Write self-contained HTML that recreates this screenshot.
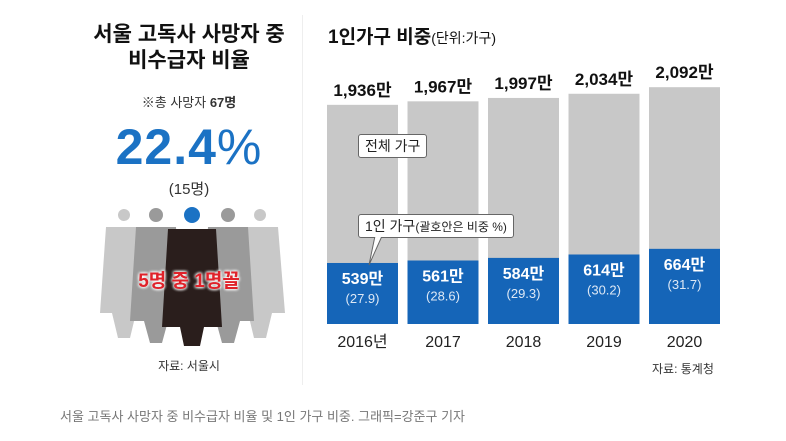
<!DOCTYPE html>
<html><head><meta charset="utf-8"><style>
body{margin:0;width:786px;height:441px;background:#fff;font-family:"Liberation Sans","Noto Sans CJK KR",sans-serif;position:relative;overflow:hidden}
.a{position:absolute;white-space:nowrap}
</style></head><body>
<div class="a" style="left:84px;top:22px;width:210px;text-align:center;font-size:21px;font-weight:bold;line-height:26px;color:#111">서울 고독사 사망자 중<br>비수급자 비율</div>
<div class="a" style="left:84px;top:92px;width:210px;text-align:center;font-size:13px;color:#333">※총 사망자 <b>67명</b></div>
<div class="a" style="left:84px;top:118px;width:210px;text-align:center;font-size:50px;font-weight:bold;color:#1b72c4;letter-spacing:1px">22.4<span style="font-weight:normal">%</span></div>
<div class="a" style="left:84px;top:178px;width:210px;text-align:center;font-size:15px;color:#333">(15명)</div>
<svg class="a" style="left:100px;top:203px" width="185" height="145">
<g fill="#c8c8c8"><circle cx="24" cy="12" r="6"/><path d="M6 24 L42 24 L48 110 L36 110 L30 135 L18 135 L12 110 L0 110Z"/>
<circle cx="160" cy="12" r="6"/><path d="M142 24 L178 24 L185 110 L172 110 L166 135 L154 135 L148 110 L136 110Z"/></g>
<g fill="#9a9a9a"><circle cx="56" cy="12" r="7"/><path d="M36 24 L76 24 L82 118 L68 118 L62 140 L50 140 L44 118 L30 118Z"/>
<circle cx="128" cy="12" r="7"/><path d="M108 24 L148 24 L154 118 L140 118 L134 140 L122 140 L116 118 L102 118Z"/></g>
<circle cx="92" cy="12" r="8" fill="#1b72c4"/>
<path d="M68 26 L116 26 L122 124 L104 124 L100 143 L84 143 L80 124 L62 124Z" fill="#2a1e1c"/>
</svg>
<div class="a" style="left:84px;top:266px;width:210px;text-align:center;font-size:19px;font-weight:bold;color:#e0222a;text-shadow:0 0 3px #fff,0 0 3px #fff,0 0 3px #fff">5명 중 1명꼴</div>
<div class="a" style="left:84px;top:357px;width:210px;text-align:center;font-size:12px;color:#333">자료: 서울시</div>
<div class="a" style="left:302px;top:15px;width:1px;height:370px;background:#eee"></div>
<div class="a" style="left:328px;top:22px;font-size:19px;font-weight:bold;color:#111">1인가구 비중<span style="font-size:14px;font-weight:normal">(단위:가구)</span></div>
<svg class="a" id="chart" style="left:0;top:0" width="786" height="441"></svg>
<div class="a" style="left:358px;top:134px;border:1px solid #666;border-radius:3px;background:#fff;font-size:14px;padding:1px 6px;color:#222">전체 가구</div>
<div class="a" style="left:358px;top:214px;border:1px solid #666;border-radius:3px;background:#fff;font-size:14px;padding:1px 6px;color:#222">1인 가구<span style="font-size:12px">(괄호안은 비중 %)</span></div>
<svg class="a" style="left:0;top:0" width="786" height="441"><path d="M375 236 L369 265 L382 236" fill="#fff" stroke="#666"/><rect x="374" y="233" width="10" height="4" fill="#fff"/></svg>
<div class="a" style="left:652px;top:360px;font-size:12px;color:#333">자료: 통계청</div>
<div class="a" style="left:60px;top:406px;font-size:13px;color:#777">서울 고독사 사망자 중 비수급자 비율 및 1인 가구 비중. 그래픽=강준구 기자</div>
<script>
const years=['2016년','2017','2018','2019','2020'];
const totals=[1936,1967,1997,2034,2092];
const singles=[539,561,584,614,664];
const shares=['27.9','28.6','29.3','30.2','31.7'];
const svg=document.getElementById('chart');const NS='http://www.w3.org/2000/svg';
const base=324,k=0.1132;
const y=v=>base-v*k, x=i=>327+i*80.5, bw=71;
function mk(t,a,txt){const e=document.createElementNS(NS,t);for(const n in a)e.setAttribute(n,a[n]);if(txt!=null)e.textContent=txt;svg.appendChild(e);return e;}
years.forEach((yr,i)=>{
 let r=mk('rect',{x:x(i),y:y(totals[i]),width:bw,height:totals[i]*k,fill:'#c8c8c8'});
 
 
 let b=mk('rect',{x:x(i),y:y(singles[i]),width:bw,height:singles[i]*k,fill:'#1565b8'});
 
 
 const cx=x(i)+bw/2;
 let t=mk('text',{x:cx,y:y(totals[i])-9,'text-anchor':'middle','font-size':17,'font-weight':'bold',fill:'#111'},totals[i].toLocaleString('en-US')+'만');
 
 
 let s=mk('text',{x:cx,y:y(singles[i])+21,'text-anchor':'middle','font-size':16,'font-weight':'bold',fill:'#fff'},singles[i]+'만');
 
 
 let p=mk('text',{x:cx,y:y(singles[i])+40,'text-anchor':'middle','font-size':13,fill:'#dde8f5'},'('+shares[i]+')');
 
 
 let l=mk('text',{x:cx,y:347,'text-anchor':'middle','font-size':16,fill:'#222'},yr);
 
 
});
</script>
</body></html>
